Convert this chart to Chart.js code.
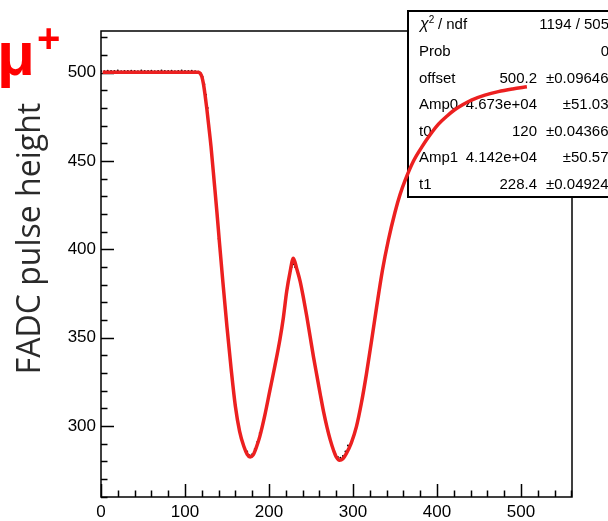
<!DOCTYPE html>
<html><head><meta charset="utf-8">
<script src="https://cdn.jsdelivr.net/npm/chart.js@4.4.1/dist/chart.umd.min.js"></script>
<style>html,body{margin:0;padding:0;background:#fff}#wrap{width:608px;height:521px}</style>
</head><body><div id="wrap"><canvas id="c" width="608" height="521"></canvas></div>
<script>
// ---- data ----
const fitX = [2, 20, 40, 60, 80, 100, 110, 116, 118, 120, 122, 124, 126, 128, 131, 135, 138, 141, 145, 150, 155, 160, 165, 170, 174, 177.5, 181, 185, 189, 195, 201, 207, 213, 217, 221, 225, 229, 233, 237, 241, 245, 249, 253, 257, 261, 265, 269, 273, 277, 280, 284, 288, 292, 298, 304, 310, 316, 322, 328, 335, 342, 350, 356, 362, 372, 382, 392, 402, 412, 421, 431, 441, 457, 473, 490, 507];
const fitY = [500.2, 500.2, 500.2, 500.2, 500.2, 500.2, 500.2, 500.2, 499.6, 497.8, 493.5, 487, 479.5, 471, 458, 437, 421, 404, 382, 356, 332, 311, 297, 288.5, 284, 282.4, 283.5, 288, 294, 306, 320, 334, 349, 361, 376, 387, 395, 389, 382, 372.5, 362, 350.5, 339, 328.5, 318, 308, 299.4, 292, 286, 282.5, 280.6, 281.5, 284.4, 290.5, 299.5, 313, 329.5, 348, 367, 388, 405, 421, 431, 439, 450, 458, 465, 471, 475.5, 479, 482, 484.5, 487.3, 489.3, 490.8, 492];
const dataX = [0, 4, 8, 12, 16, 20, 24, 28, 32, 36, 40, 44, 48, 52, 56, 60, 64, 68, 72, 76, 80, 84, 88, 92, 96, 100, 104, 108, 112, 116, 119, 121, 123, 125, 127, 140, 150, 160, 168, 171, 174, 177, 180, 183, 186, 189, 200, 210, 220, 227, 229, 231, 240, 250, 260, 270, 279, 282, 285, 288, 291, 294, 300, 310, 320, 330, 340, 350];
const dataY = [501, 500.8, 501.1, 500.9, 501, 501.2, 500.8, 501, 500.9, 501.1, 501, 500.8, 501.2, 501, 500.9, 501.1, 500.8, 501, 501.2, 500.9, 501, 501.1, 500.8, 501, 501.2, 500.9, 501, 501.1, 500.8, 500.6, 499.5, 497.5, 493.5, 487.5, 480, 406, 357, 312, 291, 287.5, 285.5, 283.5, 284, 287, 291, 296, 318, 341, 373, 390, 391.5, 390, 375, 348, 320, 297, 284, 282.5, 282, 283, 285.5, 289, 294, 313, 342, 373, 401, 421];
const xMajorTicks = [0, 100, 200, 300, 400, 500];
const yMajorTicks = [300, 350, 400, 450, 500];
const xMinorStep = 20;
const yMinorStep = 10;
const xRange = [0, 560.7];
const yRange = [259.8, 523.6];
const statsLabels = ["χ2 / ndf", "Prob", "offset", "Amp0", "t0", "Amp1", "t1"];
const statsValues = ["1194 / 505", "0", "500.2", "4.673e+04", "120", "4.142e+04", "228.4"];
const statsErrors = ["", "", "±0.09646", "±51.03", "±0.04366", "±50.57", "±0.04924"];
const particleSymbol = "μ";
const particleCharge = "+";
const yTitle = "FADC pulse height";

const SANS = '"Liberation Sans", Arial, Helvetica, sans-serif';

const decor = {
  id: 'decor',
  beforeDatasetsDraw(chart) {
    const {ctx, chartArea: a, scales: {x, y}} = chart;
    ctx.save();
    ctx.strokeStyle = '#000';
    ctx.lineWidth = 1.5;
    ctx.strokeRect(a.left, a.top, a.right - a.left, a.bottom - a.top);
    ctx.beginPath();
    for (let i = 0; i * xMinorStep <= xRange[1]; i++) {
      const v = i * xMinorStep;
      if (v < xRange[0]) continue;
      const px = Math.round(x.getPixelForValue(v)) + 0.5;
      const len = xMajorTicks.includes(v) ? 13 : 6.5;
      ctx.moveTo(px, a.bottom); ctx.lineTo(px, a.bottom - len);
    }
    for (let i = Math.ceil(yRange[0] / yMinorStep); i * yMinorStep <= yRange[1]; i++) {
      const v = i * yMinorStep;
      const py = Math.round(y.getPixelForValue(v)) + 0.5;
      const len = yMajorTicks.includes(v) ? 13 : 6.5;
      ctx.moveTo(a.left, py); ctx.lineTo(a.left + len, py);
    }
    ctx.stroke();

    // stats box
    const bx = 408, by = 11, bw = 215, bh = 186;
    ctx.fillStyle = '#fff';
    ctx.fillRect(bx, by, bw, bh);
    ctx.lineWidth = 2;
    ctx.strokeRect(bx, by, bw, bh);
    ctx.fillStyle = '#000';
    ctx.textBaseline = 'middle';
    const rowY = [25, 52, 79, 105, 132, 158, 185];
    const fs = 15;
    for (let i = 0; i < statsLabels.length; i++) {
      const yy = rowY[i];
      ctx.textAlign = 'left';
      if (i === 0) {
        ctx.font = 'italic 16px ' + SANS;
        ctx.fillText('χ', 420, yy);
        const w = ctx.measureText('χ').width;
        ctx.font = '10px ' + SANS;
        ctx.fillText('2', 420 + w, yy - 5);
        ctx.font = fs + 'px ' + SANS;
        ctx.fillText(' / ndf', 420 + w + 5, yy);
      } else {
        ctx.font = fs + 'px ' + SANS;
        ctx.fillText(statsLabels[i], 419, yy);
      }
      ctx.font = fs + 'px ' + SANS;
      ctx.textAlign = 'right';
      if (statsErrors[i]) {
        ctx.fillText(statsValues[i], 537, yy);
        ctx.fillText(statsErrors[i], 608.5, yy);
      } else {
        ctx.fillText(statsValues[i], 609, yy);
      }
    }
    ctx.restore();
  },
  afterDraw(chart) {
    const ctx = chart.ctx;
    ctx.save();
    ctx.translate(40, 238.5);
    ctx.rotate(-Math.PI / 2);
    ctx.font = '32px "Open Sans", "Noto Sans", sans-serif';
    ctx.fillStyle = '#2a2a2a';
    ctx.textAlign = 'center';
    ctx.textBaseline = 'alphabetic';
    ctx.fillText(yTitle, 0, 0);
    ctx.restore();
    ctx.save();
    ctx.fillStyle = '#ff0000';
    ctx.textAlign = 'left';
    ctx.textBaseline = 'alphabetic';
    ctx.font = 'bold 62px ' + SANS;
    ctx.fillText(particleSymbol, -3, 75);
    ctx.font = 'bold 40px ' + SANS;
    ctx.fillText(particleCharge, 37, 52);
    ctx.restore();
  }
};

const tickFont = {family: SANS, size: 17};
new Chart(document.getElementById('c'), {
  type: 'scatter',
  data: {
    datasets: [
      {
        label: 'fit',
        data: fitX.map((v, i) => ({x: v, y: fitY[i]})),
        showLine: true,
        borderColor: '#ec2020',
        borderWidth: 3.5,
        pointRadius: 0,
        cubicInterpolationMode: 'monotone',
        fill: false
      },
      {
        label: 'data',
        data: dataX.map((v, i) => ({x: v, y: dataY[i]})),
        showLine: false,
        pointRadius: 1,
        pointBackgroundColor: '#000',
        pointBorderWidth: 0
      }
    ]
  },
  options: {
    responsive: false,
    animation: false,
    devicePixelRatio: 1,
    layout: {padding: {top: 31, right: 36, left: 0, bottom: 0}},
    plugins: {legend: {display: false}, tooltip: {enabled: false}},
    scales: {
      x: {
        type: 'linear', min: xRange[0], max: xRange[1],
        grid: {display: false, drawTicks: false},
        border: {display: false},
        afterFit(s) { s.height = 24; },
        afterBuildTicks(s) { s.ticks = xMajorTicks.map(v => ({value: v})); },
        ticks: {color: '#000', font: tickFont, padding: 5, maxRotation: 0, autoSkip: false}
      },
      y: {
        type: 'linear', min: yRange[0], max: yRange[1],
        grid: {display: false, drawTicks: false},
        border: {display: false},
        afterFit(s) { s.width = 101; },
        afterBuildTicks(s) { s.ticks = yMajorTicks.map(v => ({value: v})); },
        ticks: {color: '#000', font: tickFont, padding: 5, autoSkip: false}
      }
    }
  },
  plugins: [decor]
});
</script>
</body></html>
